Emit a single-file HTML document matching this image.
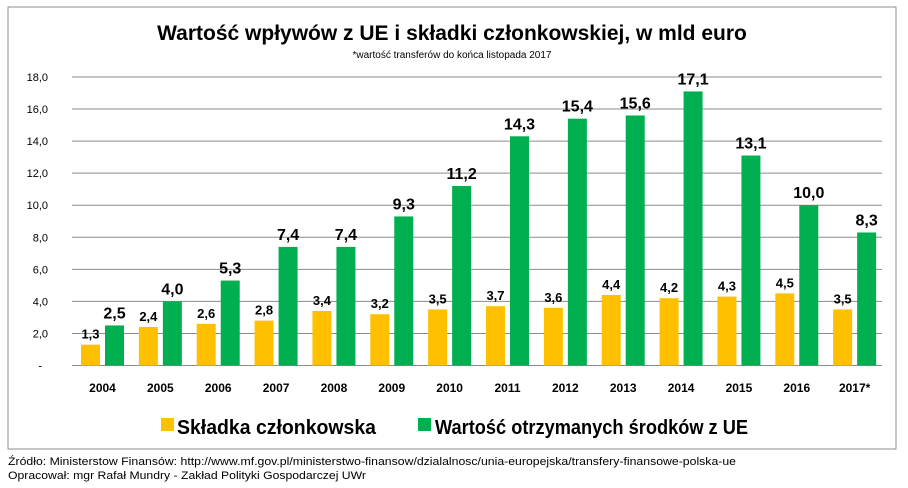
<!DOCTYPE html>
<html><head><meta charset="utf-8"><style>
body{margin:0;background:#fff;font-family:"Liberation Sans",sans-serif;}
svg text{font-family:"Liberation Sans",sans-serif;}
</style></head><body>
<svg width="908" height="483">
<rect x="8" y="7" width="888" height="442" fill="#fff" stroke="#8c8c8c" stroke-width="1"/>
<text x="452" y="40" text-anchor="middle" font-size="21" font-weight="bold">Wartość wpływów z UE i składki członkowskiej, w mld euro</text>
<text x="452" y="58" text-anchor="middle" font-size="10">*wartość transferów do końca  listopada 2017</text>
<g id="grid"></g><g id="bars"></g><g id="labels"></g>
<rect x="161" y="418" width="13" height="13" fill="#FFC000"/>
<text x="177" y="434" font-size="20" font-weight="bold" textLength="199" lengthAdjust="spacingAndGlyphs">Składka członkowska</text>
<rect x="418" y="418" width="13" height="13" fill="#00B050"/>
<text x="435" y="434" font-size="20" font-weight="bold" textLength="313" lengthAdjust="spacingAndGlyphs">Wartość otrzymanych środków z UE</text>
<text x="8" y="465" font-size="11" textLength="728" lengthAdjust="spacingAndGlyphs">Źródło: Ministerstow Finansów: http://www.mf.gov.pl/ministerstwo-finansow/dzialalnosc/unia-europejska/transfery-finansowe-polska-ue</text>
<text x="8" y="479" font-size="11" textLength="358" lengthAdjust="spacingAndGlyphs">Opracował: mgr Rafał Mundry - Zakład Polityki Gospodarczej UWr</text>
</svg>
<script>
const categories=["2004","2005","2006","2007","2008","2009","2010","2011","2012","2013","2014","2015","2016","2017*"];
const skladka=[1.3,2.4,2.6,2.8,3.4,3.2,3.5,3.7,3.6,4.4,4.2,4.3,4.5,3.5];
const wplywy=[2.5,4.0,5.3,7.4,7.4,9.3,11.2,14.3,15.4,15.6,17.1,13.1,10.0,8.3];
const yTicks=[0,2,4,6,8,10,12,14,16,18];
const NS="http://www.w3.org/2000/svg";
const x0=72,x1=882,y0=365.5,yTop=77;
const band=(x1-x0)/categories.length;
function y(v){return y0-(y0-yTop)*v/18;}
function mk(t,a,p){const e=document.createElementNS(NS,t);for(const k in a)e.setAttribute(k,a[k]);p.appendChild(e);return e;}
const fmt=v=>v.toFixed(1).replace('.',',');
const grid=document.getElementById('grid'),bars=document.getElementById('bars'),labels=document.getElementById('labels');
yTicks.forEach(t=>{
  const l=mk('line',{x1:x0,x2:x1,y1:y(t),y2:y(t),stroke:'#8c8c8c','stroke-width':1},grid);
  
  
  const tx=mk('text',{x:t===0?42:48,y:y(t)+4,'text-anchor':'end','font-size':11},grid);
  tx.textContent=t===0?'-':fmt(t);
  
  
});
categories.forEach((c,i)=>{
  const bx=x0+i*band;
  const r1=mk('rect',{x:bx+9,y:y(skladka[i]),width:19,height:y0-y(skladka[i]),fill:'#FFC000'},bars);
  
  
  const r2=mk('rect',{x:bx+33,y:y(wplywy[i]),width:19,height:y0-y(wplywy[i]),fill:'#00B050'},bars);
  
  
  const t1=mk('text',{x:bx+18.5,y:y(skladka[i])-6,'text-anchor':'middle','font-size':13,'font-weight':'bold'},labels);
  t1.textContent=fmt(skladka[i]);
  
  
  const t2=mk('text',{x:bx+42.5,y:y(wplywy[i])-7,'text-anchor':'middle','font-size':16,'font-weight':'bold'},labels);
  t2.textContent=fmt(wplywy[i]);
  
  
  const tc=mk('text',{x:bx+30.5,y:392,'text-anchor':'middle','font-size':12,'font-weight':'bold'},labels);
  tc.textContent=c;
  
  
});
</script>
</body></html>
